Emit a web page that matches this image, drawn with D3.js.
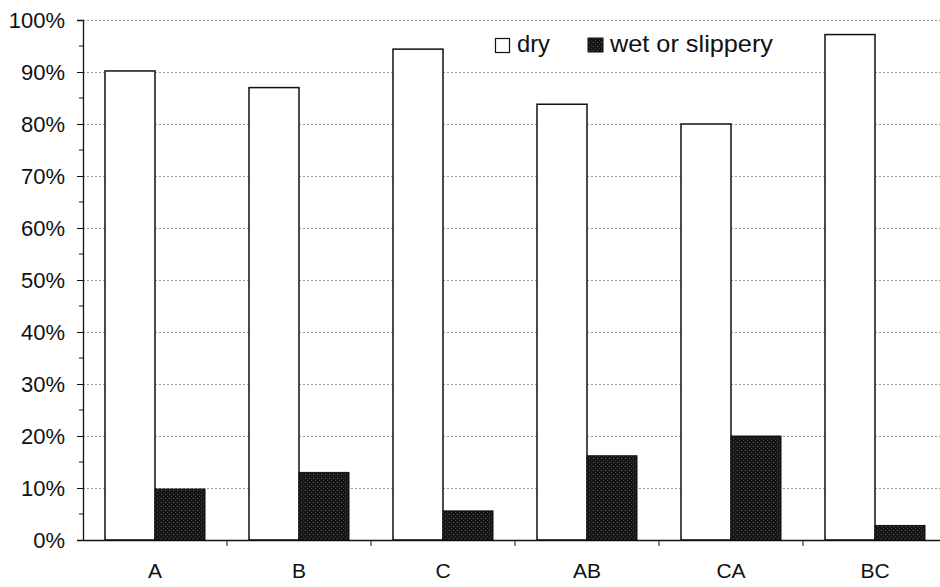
<!DOCTYPE html>
<html><head><meta charset="utf-8">
<script src="https://cdn.jsdelivr.net/npm/d3@7"></script>
<style>body{margin:0;background:#fff}svg{display:block}text{font-family:"Liberation Sans",Arial,sans-serif;fill:#111}</style>
</head><body><svg id="c" width="940" height="587"></svg>
<script>
const categories = ["A","B","C","AB","CA","BC"];
const dry = [90.2, 87.0, 94.4, 83.8, 80.0, 97.2];
const wet = [9.8, 13.0, 5.6, 16.2, 20.0, 2.8];
const yTicks = [0,10,20,30,40,50,60,70,80,90,100];
const seriesNames = ["dry","wet or slippery"];

const svg = d3.select("#c");
const m = {l:83, t:20, r:-7, b:47};
const W = 940, H = 587;
const x = d3.scaleBand().domain(categories).range([m.l, W - m.r]).paddingInner(0).paddingOuter(0);
const y = d3.scaleLinear().domain([0,100]).range([H - m.b, m.t]);

const defs = svg.append("defs");
const pat = defs.append("pattern").attr("id","stip").attr("width",4).attr("height",4).attr("patternUnits","userSpaceOnUse");
pat.append("rect").attr("width",4).attr("height",4).attr("fill","#161616");
pat.append("rect").attr("x",1).attr("y",2).attr("width",1).attr("height",1).attr("fill","#555");
pat.append("rect").attr("x",3).attr("y",0).attr("width",1).attr("height",1).attr("fill","#3a3a3a");

// gridlines
svg.append("g").selectAll("line").data(yTicks.filter(d=>d>0)).join("line")
  .attr("x1", m.l).attr("x2", W).attr("y1", d=>y(d)+0.5).attr("y2", d=>y(d)+0.5)
  .attr("stroke","#999").attr("stroke-width",1).attr("stroke-dasharray","2,2");

const bw = 50;
const g = svg.append("g");
categories.forEach((c,i)=>{
  const cx = x(c) + x.bandwidth()/2;
  g.append("rect").attr("x", cx - bw).attr("y", y(dry[i])).attr("width", bw).attr("height", y(0)-y(dry[i]))
    .attr("fill","#fff").attr("stroke","#111").attr("stroke-width",1.5);
  g.append("rect").attr("x", cx).attr("y", y(wet[i])).attr("width", bw).attr("height", y(0)-y(wet[i]))
    .attr("fill","url(#stip)").attr("stroke","#111").attr("stroke-width",1);
});

// y axis
const yAxis = d3.axisLeft(y).tickValues(yTicks).tickFormat(d=>d+"%").tickSize(6).tickPadding(12);
const ya = svg.append("g").attr("transform",`translate(${m.l},0)`).call(yAxis);
ya.select(".domain").attr("stroke","#111").attr("stroke-width",1.3);
ya.selectAll(".tick line").attr("stroke","#111");
ya.selectAll("text").style("font-size","22px").style("fill","#111").attr("dy","0.36em");
// minor ticks
svg.append("g").selectAll("line").data(d3.range(5,100,10)).join("line")
  .attr("x1", m.l-4).attr("x2", m.l).attr("y1", d=>y(d)).attr("y2", d=>y(d)).attr("stroke","#111");

// x axis
const xa = svg.append("g").attr("transform",`translate(0,${y(0)})`).call(d3.axisBottom(x).tickSize(0).tickPadding(23));
xa.select(".domain").attr("stroke","#111").attr("stroke-width",1.3);
xa.selectAll("text").style("font-size","21px").style("fill","#111").attr("dy","0.71em");
svg.append("g").selectAll("line").data(categories.slice(1)).join("line")
  .attr("x1", d=>x(d)).attr("x2", d=>x(d)).attr("y1", y(0)).attr("y2", y(0)+6).attr("stroke","#111");

// legend
const lg = svg.append("g");
lg.append("rect").attr("x",495.5).attr("y",38.5).attr("width",14).attr("height",14).attr("fill","#fff").attr("stroke","#111").attr("stroke-width",1.2);
lg.append("text").attr("x",517).attr("y",52).style("font-size","24px")
  .attr("textLength",33).attr("lengthAdjust","spacingAndGlyphs").text(seriesNames[0]);
lg.append("rect").attr("x",588).attr("y",38).attr("width",15).attr("height",14).attr("fill","url(#stip)").attr("stroke","#111");
lg.append("text").attr("x",610).attr("y",52).style("font-size","24px")
  .attr("textLength",163).attr("lengthAdjust","spacingAndGlyphs").text(seriesNames[1]);
</script></body></html>
